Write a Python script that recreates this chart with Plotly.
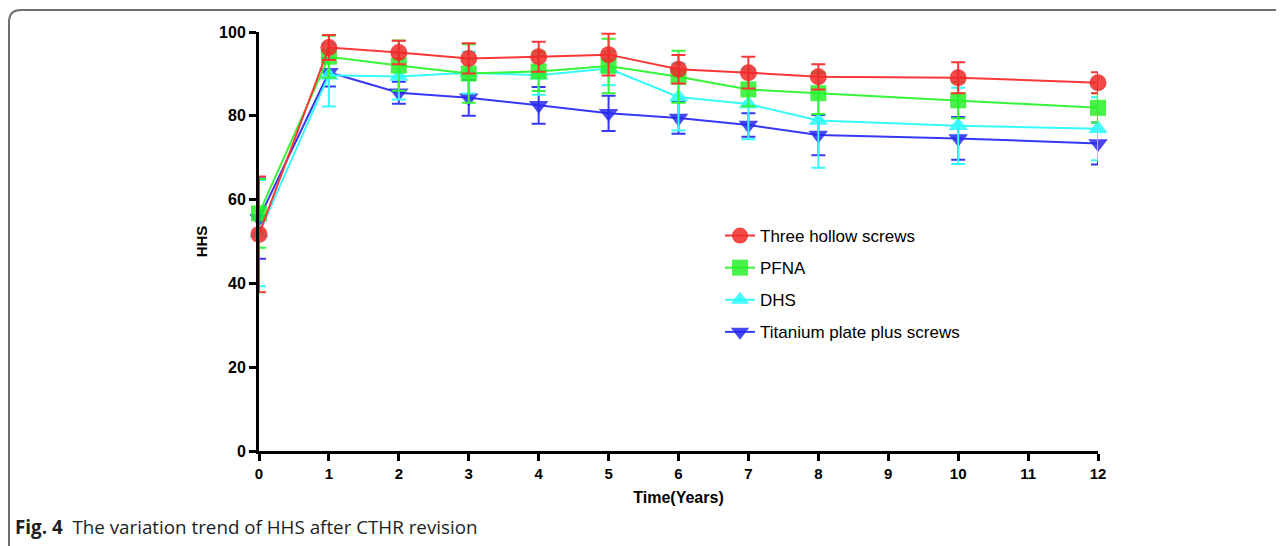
import plotly.graph_objects as go

years = [0, 1, 2, 3, 4, 5, 6, 7, 8, 10, 12]
x_ticks = list(range(0, 13))
y_ticks = [0, 20, 40, 60, 80, 100]

names = ["Three hollow screws", "PFNA", "DHS", "Titanium plate plus screws"]

red_mean = [51.7, 96.3, 95.1, 93.7, 94.1, 94.6, 91.1, 90.3, 89.3, 89.1, 87.9]
red_sd = [13.8, 3.0, 2.8, 3.6, 3.6, 5.0, 3.4, 3.8, 3.0, 3.7, 2.5]

green_mean = [56.7, 94.1, 92.0, 90.1, 90.6, 91.9, 89.3, 86.3, 85.4, 83.7, 81.9]
green_sd = [8.2, 5.0, 6.0, 7.0, 4.7, 6.5, 6.2, 4.0, 5.0, 4.3, 3.5]

cyan_mean = [52.0, 89.7, 89.4, 90.3, 89.7, 91.3, 84.5, 82.8, 78.9, 77.6, 76.9]
cyan_sd = [12.7, 7.5, 5.5, 5.0, 4.7, 4.0, 8.0, 8.4, 11.3, 9.1, 7.5]

blue_mean = [55.5, 90.4, 85.5, 84.3, 82.5, 80.6, 79.5, 77.8, 75.4, 74.6, 73.4]
blue_sd = [9.6, 3.4, 2.6, 4.3, 4.4, 4.2, 3.8, 2.8, 4.8, 5.1, 5.0]

# drawn bottom-to-top (red on top); legend rank puts red first
series = [
    (names[3], blue_mean, blue_sd, "rgb(55,55,245)", "rgba(40,40,240,0.85)", "triangle-down", 4),
    (names[2], cyan_mean, cyan_sd, "rgb(55,250,250)", "rgba(40,250,250,0.85)", "triangle-up", 3),
    (names[1], green_mean, green_sd, "rgb(55,245,55)", "rgba(40,240,40,0.85)", "square", 2),
    (names[0], red_mean, red_sd, "rgb(250,55,55)", "rgba(240,40,40,0.85)", "circle", 1),
]

fig = go.Figure()
for nm, ys, sd, lc, mc, sym, rank in series:
    fig.add_trace(go.Scatter(
        x=years, y=ys, name=nm, mode="lines+markers",
        legendgroup=f"g{rank}", legendrank=rank,
        line=dict(color=lc, width=2),
        marker=dict(symbol=sym, size=17 if sym != "square" else 16, color=mc, line=dict(width=0)),
        error_y=dict(type="data", array=sd, visible=True, color=lc, thickness=2, width=7),
        cliponaxis=False,
    ))

# page body has an 8px margin; target pixel coords are given in page space
OX, OY = 8, 8
W, H = 1284 - OX, 546 - OY
L, R, T, B = 259 - OX, 1098 - OX, 32 - OY, 451 - OY


def px(xp):
    return (xp - OX - L) / (R - L)


def py(yp):
    return (B - (yp - OY)) / (B - T)


path = (f"M {px(9)} {py(560)} L {px(9)} {py(22)} "
        f"Q {px(9)} {py(10)} {px(21)} {py(10)} L {px(1300)} {py(10)}")

FONT = "Liberation Sans, Arial, sans-serif"

fig.update_layout(
    width=W, height=H,
    margin=dict(l=L, r=W - R, t=T, b=H - B),
    paper_bgcolor="white", plot_bgcolor="white",
    font=dict(family=FONT, color="black"),
    showlegend=True,
    legend=dict(
        x=px(720), y=py(218), xanchor="left", yanchor="top",
        traceorder="grouped", tracegroupgap=7,
        font=dict(size=17, family=FONT),
        bgcolor="rgba(0,0,0,0)",
    ),
    xaxis=dict(
        range=[0, 12], tickvals=x_ticks, ticktext=[str(v) for v in x_ticks],
        showgrid=False, zeroline=False,
        showline=True, linecolor="black", linewidth=3,
        ticks="outside", ticklen=7, tickwidth=3, tickcolor="black",
        tickfont=dict(size=15, family=FONT, weight="bold"),
        title=dict(text="<b>Time(Years)</b>", font=dict(size=16), standoff=11),
    ),
    yaxis=dict(
        range=[0, 100], tickvals=y_ticks, ticktext=[str(v) for v in y_ticks],
        showgrid=False, zeroline=False,
        showline=True, linecolor="black", linewidth=3,
        ticks="outside", ticklen=7, tickwidth=3, tickcolor="black",
        tickfont=dict(size=16, family=FONT, weight="bold"),
        title=dict(text="<b>HHS</b>", font=dict(size=15), standoff=8),
    ),
    shapes=[dict(type="path", path=path, xref="paper", yref="paper",
                 line=dict(color="rgb(110,110,110)", width=2), layer="above")],
    annotations=[dict(
        text="<b>Fig. 4</b>  The variation trend of HHS after CTHR revision",
        x=px(13), y=py(527), xref="paper", yref="paper",
        xanchor="left", yanchor="middle", showarrow=False,
        font=dict(size=18.8, family="Open Sans, sans-serif", color="rgb(30,30,30)"),
    )],
)

fig.write_html("out.html")
